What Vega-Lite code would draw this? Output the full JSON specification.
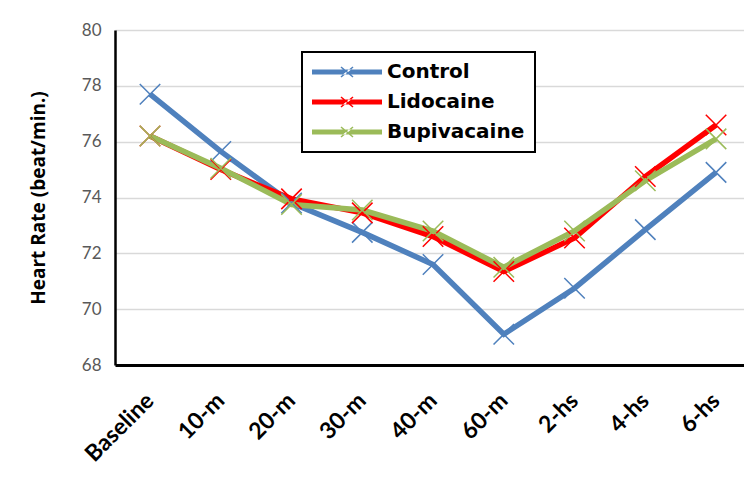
{
  "$schema": "https://vega.github.io/schema/vega-lite/v6.json",
  "width": 629,
  "height": 335,
  "autosize": {"type": "none"},
  "padding": {"left": 115, "top": 30, "right": 0, "bottom": 119},
  "background": "white",
  "config": {"view": {"stroke": null}, "font": "Lato"},
  "data": {
    "values": [
      {"time": "Baseline", "group": "Control", "hr": 77.7},
      {"time": "10-m", "group": "Control", "hr": 75.65},
      {"time": "20-m", "group": "Control", "hr": 73.8},
      {"time": "30-m", "group": "Control", "hr": 72.75},
      {"time": "40-m", "group": "Control", "hr": 71.6},
      {"time": "60-m", "group": "Control", "hr": 69.1},
      {"time": "2-hs", "group": "Control", "hr": 70.75},
      {"time": "4-hs", "group": "Control", "hr": 72.85},
      {"time": "6-hs", "group": "Control", "hr": 74.9},
      {"time": "Baseline", "group": "Lidocaine", "hr": 76.2},
      {"time": "10-m", "group": "Lidocaine", "hr": 75.0},
      {"time": "20-m", "group": "Lidocaine", "hr": 73.95},
      {"time": "30-m", "group": "Lidocaine", "hr": 73.45},
      {"time": "40-m", "group": "Lidocaine", "hr": 72.6},
      {"time": "60-m", "group": "Lidocaine", "hr": 71.35},
      {"time": "2-hs", "group": "Lidocaine", "hr": 72.55},
      {"time": "4-hs", "group": "Lidocaine", "hr": 74.75},
      {"time": "6-hs", "group": "Lidocaine", "hr": 76.6},
      {"time": "Baseline", "group": "Bupivacaine", "hr": 76.2},
      {"time": "10-m", "group": "Bupivacaine", "hr": 75.05},
      {"time": "20-m", "group": "Bupivacaine", "hr": 73.75},
      {"time": "30-m", "group": "Bupivacaine", "hr": 73.55},
      {"time": "40-m", "group": "Bupivacaine", "hr": 72.8},
      {"time": "60-m", "group": "Bupivacaine", "hr": 71.5},
      {"time": "2-hs", "group": "Bupivacaine", "hr": 72.8},
      {"time": "4-hs", "group": "Bupivacaine", "hr": 74.6},
      {"time": "6-hs", "group": "Bupivacaine", "hr": 76.1}
    ]
  },
  "encoding": {
    "x": {
      "field": "time",
      "type": "ordinal",
      "sort": ["Baseline", "10-m", "20-m", "30-m", "40-m", "60-m", "2-hs", "4-hs", "6-hs"],
      "scale": {"type": "point", "padding": 0.445, "align": 0.556},
      "axis": {
        "title": null,
        "labelAngle": -45,
        "labelFontSize": 23,
        "labelFontWeight": "bold",
        "labelColor": "black",
        "ticks": false,
        "domainColor": "black",
        "domainWidth": 3,
        "labelPadding": 24,
        "labelOffset": -8,
        "grid": false
      }
    },
    "y": {
      "field": "hr",
      "type": "quantitative",
      "scale": {"domain": [68, 80], "nice": false, "zero": false},
      "axis": {
        "title": "Heart Rate (beat/min.)",
        "titleFont": "Open Sans",
        "titleFontSize": 19,
        "titleFontWeight": "bold",
        "titleColor": "black",
        "titlePadding": 33,
        "values": [68, 70, 72, 74, 76, 78, 80],
        "labelFontSize": 17,
        "labelColor": "#595959",
        "ticks": false,
        "domainColor": "black",
        "domainWidth": 2.5,
        "grid": true,
        "gridColor": "#D9D9D9",
        "gridWidth": 1.5,
        "labelPadding": 14
      }
    }
  },
  "layer": [
    {
      "mark": {"type": "line", "strokeWidth": 5.5},
      "encoding": {
        "color": {
          "field": "group",
          "type": "nominal",
          "sort": ["Control", "Lidocaine", "Bupivacaine"],
          "scale": {"domain": ["Control", "Lidocaine", "Bupivacaine"], "range": ["#4F81BD", "#FF0000", "#9BBB59"]},
          "legend": {
            "title": null,
            "orient": "none",
            "legendX": 187,
            "legendY": 22,
            "strokeColor": "black",
            "fillColor": "white",
            "padding": 10,
            "rowPadding": 10,
            "labelFont": "DejaVu Sans",
            "labelFontWeight": "bold",
            "labelFontSize": 20,
            "labelColor": "black",
            "symbolType": "M-1,-0.25H6V0.25H-1ZM1.85,-0.45L1.95,-0.55L3.15,0.45L3.05,0.55ZM1.85,0.45L1.95,0.55L3.15,-0.45L3.05,-0.55Z",
            "symbolSize": 400,
            "symbolStrokeWidth": 0,
            "labelOffset": 55,
            "encode": {
              "legend": {"update": {"stroke": {"value": "black"}, "strokeWidth": {"value": 2}}},
              "symbols": {"update": {"fill": {"scale": "color", "field": "value"}, "strokeWidth": {"value": 0}, "opacity": {"value": 1}}}
            }
          }
        }
      }
    },
    {
      "mark": {"type": "point", "shape": "M-1,-1L1,1M-1,1L1,-1", "size": 420, "strokeWidth": 1.5, "filled": false, "opacity": 1},
      "encoding": {
        "stroke": {
          "field": "group",
          "type": "nominal",
          "scale": {"domain": ["Control", "Lidocaine", "Bupivacaine"], "range": ["#4F81BD", "#FF0000", "#9BBB59"]},
          "legend": null
        }
      }
    }
  ]
}
